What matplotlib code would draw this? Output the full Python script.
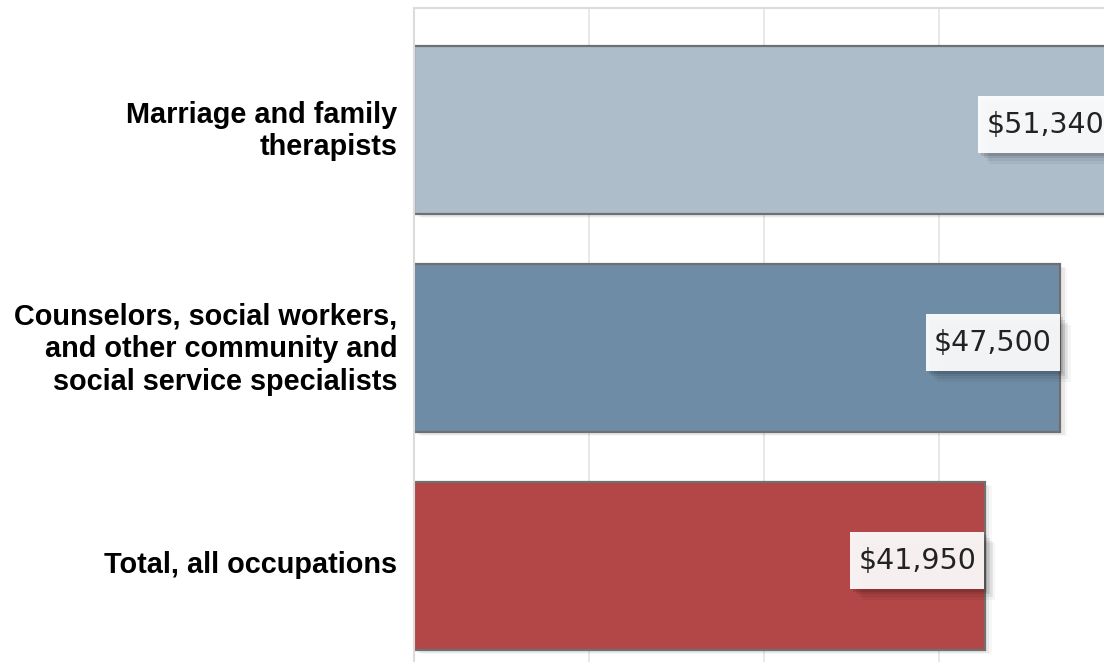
import matplotlib
matplotlib.use("Agg")
import matplotlib.pyplot as plt
import matplotlib.patheffects as pe
import matplotlib.transforms as mtransforms
from matplotlib.path import Path
import numpy as np

categories = [
    "Marriage and family\ntherapists",
    "Counselors, social workers,\nand other community and\nsocial service specialists",
    "Total, all occupations",
]
values = [51340, 47500, 41950]
value_labels = ["$51,340", "$47,500", "$41,950"]
colors = ["#adbdca", "#6f8ca6", "#b34646"]

fig = plt.figure(figsize=(11.04, 6.62), dpi=100)
ax = fig.add_axes([414 / 1104, 0, 1 - 414 / 1104, 1 - 8 / 662])

y = np.arange(len(categories))
bars = ax.barh(y, values, height=0.77, color=colors, edgecolor="#707070",
               linewidth=1.6, zorder=2)
for b in bars:
    b.set_path_effects([pe.SimplePatchShadow(offset=(3, -2), shadow_rgbFace="k", alpha=0.06),
                        pe.SimplePatchShadow(offset=(5, -3), shadow_rgbFace="k", alpha=0.03),
                        pe.Normal()])

ax.set_xlim(0, 50700)
ax.set_ylim(2.44, -0.56)

ax.set_xticks(np.arange(0, 50700, 12850))
ax.xaxis.grid(True, color="#e4e4e4", linewidth=1.2, zorder=0)
ax.set_axisbelow(True)
ax.tick_params(axis="x", length=0, labelbottom=False)
ax.tick_params(axis="y", length=0, pad=12)
ax.set_yticks(y)
ax.set_yticklabels(categories, fontsize=20.8, fontweight="bold",
                   family="Liberation Sans", color="#000000", ha="right",
                   linespacing=1.2)
shift = mtransforms.ScaledTranslation(0, 4 / 100, fig.dpi_scale_trans)
for lab in ax.get_yticklabels():
    lab.set_transform(lab.get_transform() + shift)

for s in ["right", "bottom"]:
    ax.spines[s].set_visible(False)
for s in ["top", "left"]:
    ax.spines[s].set_color("#dcdcdc")
    ax.spines[s].set_linewidth(1.5)

PADX, PADY = 0.28, 0.5


def label_box(x0, y0, width, height, mutation_size):
    px = PADX * mutation_size
    py = PADY * mutation_size
    x0, y0 = x0 - px, y0 - py
    x1, y1 = x0 + width + 2 * px, y0 + height + 2 * py
    return Path([(x0, y0), (x1, y0), (x1, y1), (x0, y1), (x0, y0)], closed=True)


fs = 20.5
shadow = [pe.SimplePatchShadow(offset=(dx, -dy), shadow_rgbFace="k", alpha=a)
          for dx, dy, a in [(2, 2, 0.10), (4, 4, 0.08), (6, 6, 0.06), (8, 8, 0.04)]]
for yi, v, lab in zip(y, values, value_labels):
    t = ax.annotate(lab, xy=(v, yi), xytext=(-PADX * fs - 0.5, 4),
                    textcoords="offset points", ha="right", va="center",
                    fontsize=fs, family="DejaVu Sans", color="#222222",
                    bbox=dict(boxstyle=label_box, facecolor="white",
                              edgecolor="none", alpha=0.93),
                    zorder=5, annotation_clip=False)
    t.get_bbox_patch().set_path_effects(shadow + [pe.Normal()])

fig.savefig("out.png", dpi=100)
